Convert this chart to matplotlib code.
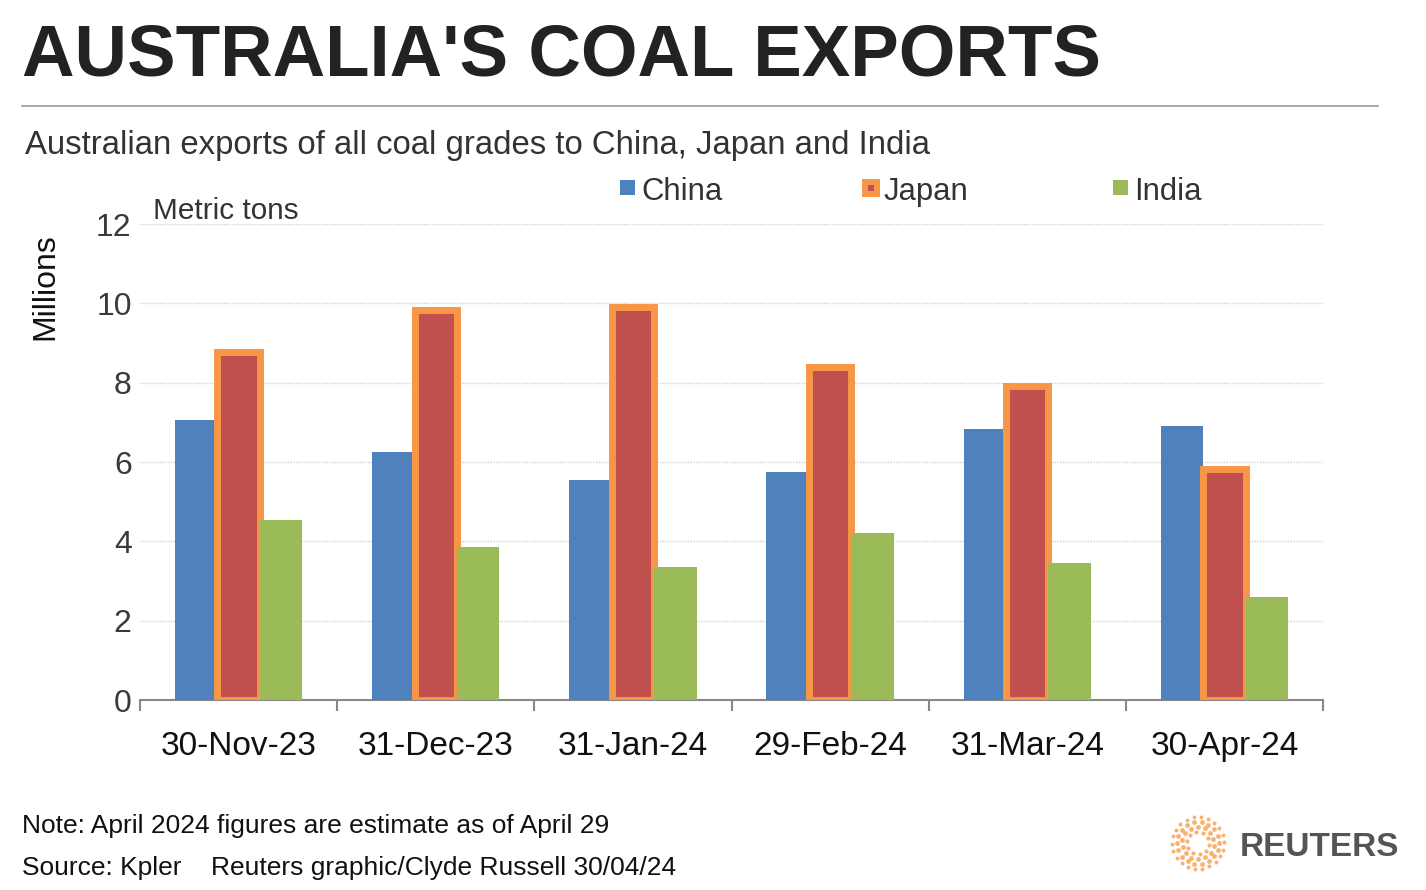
import matplotlib
matplotlib.use("Agg")
import matplotlib.pyplot as plt
import numpy as np

categories = ["30-Nov-23", "31-Dec-23", "31-Jan-24", "29-Feb-24", "31-Mar-24", "30-Apr-24"]
china = [7.05, 6.25, 5.55, 5.75, 6.82, 6.92]
japan = [8.78, 9.83, 9.90, 8.40, 7.92, 5.82]
india = [4.55, 3.85, 3.35, 4.20, 3.45, 2.60]
yticks = [0, 2, 4, 6, 8, 10, 12]

plt.rcParams['font.family'] = ['Liberation Sans', 'DejaVu Sans']

W, H = 1426, 890
fig = plt.figure(figsize=(W / 100, H / 100), dpi=100)
fig.patch.set_facecolor("white")

ax = fig.add_axes([140 / W, 1 - 700 / H, (1323 - 140) / W, (700 - 224) / H])
x = np.arange(len(categories))
bw = 0.215
ax.bar(x - bw, china, width=bw, color="#4F81BD", zorder=3)
ax.bar(x, japan, width=bw, color="#C0504D", edgecolor="#F79646", linewidth=5, zorder=3)
ax.bar(x + bw, india, width=bw, color="#9BBB59", zorder=3)

ax.set_xlim(-0.5, len(categories) - 0.5)
ax.set_ylim(0, 12)
ax.set_yticks(yticks)
ax.set_yticklabels([str(t) for t in yticks], fontsize=23, color="#3a3a3a")
ax.yaxis.grid(True, color="#d0d0d0", linestyle=(0, (1, 1)), linewidth=1.0, zorder=0)
ax.tick_params(axis="y", length=0, pad=6)
ax.set_xticks(x)
ax.set_xticklabels(categories, fontsize=24, color="#111111")
ax.tick_params(axis="x", length=0, pad=22)
ax.set_xticks(np.arange(-0.5, len(categories), 1.0), minor=True)
ax.tick_params(axis="x", which="minor", length=8, color="#888888", width=1.5)
for s in ["top", "right", "left"]:
    ax.spines[s].set_visible(False)
ax.spines["bottom"].set_color("#888888")
ax.spines["bottom"].set_linewidth(1.5)
ax.set_facecolor("white")

dy = 4
# Titles
fig.text(22 / W, 1 - (52 + dy) / H, "AUSTRALIA'S COAL EXPORTS", fontsize=52.4, fontweight="bold",
         color="#222222", va="center", ha="left")
fig.add_artist(plt.Line2D([22 / W, 1378 / W], [1 - 106 / H, 1 - 106 / H], color="#999999", linewidth=1.2))
fig.text(25 / W, 1 - (141 + dy) / H, "Australian exports of all coal grades to China, Japan and India",
         fontsize=23.7, color="#333333", va="center", ha="left")
fig.text(153 / W, 1 - (207 + dy) / H, "Metric tons", fontsize=21.4, color="#333333", va="center", ha="left")
fig.text(45 / W, 1 - 287 / H, "Millions", fontsize=23, color="#111111", va="center", ha="center",
         rotation=90)

# Legend
leg_items = [("China", 620, "#4F81BD", None), ("Japan", 862, "#C0504D", "#F79646"), ("India", 1113, "#9BBB59", None)]
for label, lx, fc, ec in leg_items:
    if ec:
        fig.add_artist(plt.Rectangle((lx / W, 1 - 197 / H), 18 / W, 18 / H, transform=fig.transFigure,
                                     facecolor=ec, edgecolor="none"))
        fig.add_artist(plt.Rectangle(((lx + 6) / W, 1 - 191 / H), 6 / W, 6 / H, transform=fig.transFigure,
                                     facecolor=fc, edgecolor="none"))
    else:
        fig.add_artist(plt.Rectangle((lx / W, 1 - 195 / H), 15 / W, 15 / H, transform=fig.transFigure,
                                     facecolor=fc, edgecolor="none"))
    fig.text((lx + 21) / W, 1 - (188 + dy) / H, label, fontsize=22.3, color="#333333", va="center", ha="left")

# Notes
fig.text(22 / W, 1 - (822 + dy) / H, "Note: April 2024 figures are estimate as of April 29", fontsize=19,
         color="#111111", va="center", ha="left")
fig.text(22 / W, 1 - (864 + dy) / H, "Source: Kpler    Reuters graphic/Clyde Russell 30/04/24", fontsize=19,
         color="#111111", va="center", ha="left")

# Reuters logo
fig.text(1240 / W, 1 - (843 + dy) / H, "REUTERS", fontsize=24, fontweight="bold", color="#555555",
         va="center", ha="left")
lax = fig.add_axes([(1198 - 30) / W, 1 - (843 + 30) / H, 60 / W, 60 / H])
lax.set_xlim(-30, 30)
lax.set_ylim(-30, 30)
lax.axis("off")
for r, n, s in [(11, 10, 9), (16, 14, 12), (21, 18, 12), (26, 22, 8)]:
    ang = np.linspace(0, 2 * np.pi, n, endpoint=False) + r * 0.1
    lax.scatter(r * np.cos(ang), r * np.sin(ang), s=s, color="#F5A04A", alpha=0.8, linewidths=0)

fig.savefig("out.png", dpi=100, facecolor="white")
